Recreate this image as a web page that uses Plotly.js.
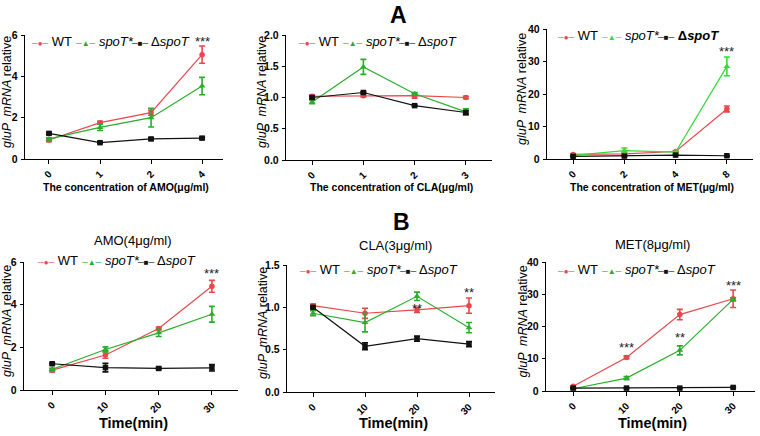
<!DOCTYPE html>
<html>
<head>
<meta charset="utf-8">
<script src="https://cdn.plot.ly/plotly-3.0.1.min.js"></script>
<style>
  body { margin: 0; background: #fff; }
  #graph { width: 760px; height: 436px; }
</style>
</head>
<body>
<div id="graph"></div>
<script>
// x categories
var amoConc = ['0', '1', '2', '4']
var claConc = ['0', '1', '2', '3']
var metConc = ['0', '2', '4', '8']
var timePts = ['0', '10', '20', '30']

// A: concentration series (value, sem)
var amoConcWT = [0.92, 1.76, 2.24, 5.05]
var amoConcWTErr = [0.08, 0.06, 0.12, 0.42]
var amoConcSpo = [0.97, 1.53, 2.0, 3.53]
var amoConcSpoErr = [0.05, 0.15, 0.45, 0.42]
var amoConcDel = [1.24, 0.79, 0.97, 1.01]
var amoConcDelErr = [0.05, 0.04, 0.05, 0.05]

var claConcWT = [1.02, 1.03, 1.03, 1.0]
var claConcWTErr = [0.02, 0.02, 0.04, 0.02]
var claConcSpo = [0.93, 1.49, 1.06, 0.77]
var claConcSpoErr = [0.03, 0.12, 0.02, 0.05]
var claConcDel = [1.0, 1.08, 0.87, 0.76]
var claConcDelErr = [0.02, 0.01, 0.01, 0.03]

var metConcWT = [1.4, 1.6, 2.3, 15.4]
var metConcWTErr = [0.2, 0.2, 0.2, 0.9]
var metConcSpo = [1.1, 2.6, 2.1, 28.5]
var metConcSpoErr = [0.2, 0.8, 0.3, 2.9]
var metConcDel = [0.8, 0.9, 1.2, 1.0]
var metConcDelErr = [0.1, 0.1, 0.1, 0.1]

// B: time series
var amoTimeWT = [0.93, 1.64, 2.88, 4.86]
var amoTimeWTErr = [0.08, 0.15, 0.06, 0.28]
var amoTimeSpo = [0.97, 1.9, 2.68, 3.55]
var amoTimeSpoErr = [0.05, 0.12, 0.17, 0.37]
var amoTimeDel = [1.23, 1.05, 1.01, 1.04]
var amoTimeDelErr = [0.04, 0.2, 0.05, 0.15]

var claTimeWT = [1.02, 0.93, 0.97, 1.02]
var claTimeWTErr = [0.02, 0.06, 0.03, 0.09]
var claTimeSpo = [0.93, 0.82, 1.13, 0.76]
var claTimeSpoErr = [0.03, 0.11, 0.05, 0.06]
var claTimeDel = [1.0, 0.54, 0.63, 0.565]
var claTimeDelErr = [0.01, 0.04, 0.03, 0.03]

var metTimeWT = [1.45, 10.4, 23.7, 28.6]
var metTimeWTErr = [0.2, 0.4, 1.6, 2.7]
var metTimeSpo = [0.7, 4.0, 12.6, 28.4]
var metTimeSpoErr = [0.1, 0.5, 1.4, 0.5]
var metTimeDel = [0.9, 0.9, 0.9, 1.1]
var metTimeDelErr = [0.1, 0.1, 0.1, 0.1]

// significance marks: [panel, category, y, text]
var stars = [
  [1, '4', 5.7, '***'],
  [3, '8', 33.2, '***'],
  [4, '30', 5.45, '***'],
  [5, '20', 0.99, '**'],
  [5, '30', 1.17, '**'],
  [6, '10', 13.6, '***'],
  [6, '20', 16.6, '**'],
  [6, '30', 32.8, '***']
]

var names = ['WT', '<i>spoT*</i>', 'Δ<i>spoT</i>']
var keys = ['─●─', '─▲─', '─■─']
var symbols = ['circle', 'triangle-up', 'square']
var legOffsets = [0, 44, 100]

var W = 760, H = 436
var RED = '#e8474c', GREEN = '#2aae2a', BLACK = '#111111'
var FONT = 'Liberation Sans, Arial, sans-serif'

// pixel boxes of each plot area: [left, right, top, bottom]
var panels = [
  { box: [25, 223, 35, 159], xr: [-0.47, 3.41], yr: [0, 6], dt: 2, fmt: '', cats: amoConc,
    series: [[amoConcWT, amoConcWTErr], [amoConcSpo, amoConcSpoErr], [amoConcDel, amoConcDelErr]],
    leg: [29, 42], ytx: 7, green: GREEN, xt: 'The concentration of AMO(μg/ml)' },
  { box: [286, 492, 35, 160], xr: [-0.51, 3.51], yr: [0, 2], dt: 0.5, fmt: '.1f', cats: claConc,
    series: [[claConcWT, claConcWTErr], [claConcSpo, claConcSpoErr], [claConcDel, claConcDelErr]],
    leg: [296, 42], ytx: 261.5, green: GREEN, xt: 'The concentration of CLA(μg/ml)' },
  { box: [547, 753, 29, 159], xr: [-0.51, 3.51], yr: [0, 40], dt: 10, fmt: '', cats: metConc,
    series: [[metConcWT, metConcWTErr], [metConcSpo, metConcSpoErr], [metConcDel, metConcDelErr]],
    leg: [555, 36], ytx: 522, green: '#3ad83a', boldDel: true, xt: 'The concentration of MET(μg/ml)' },
  { box: [24, 238, 262, 390], xr: [-0.53, 3.49], yr: [0, 6], dt: 2, fmt: '', cats: timePts,
    series: [[amoTimeWT, amoTimeWTErr], [amoTimeSpo, amoTimeSpoErr], [amoTimeDel, amoTimeDelErr]],
    leg: [35, 260], ytx: 7, green: GREEN, xt: 'Time(min)', sub: 'AMO(4μg/ml)', subPos: [133, 241] },
  { box: [287, 495, 265, 392], xr: [-0.5, 3.5], yr: [0, 1.5], dt: 0.5, fmt: '.1f', cats: timePts,
    series: [[claTimeWT, claTimeWTErr], [claTimeSpo, claTimeSpoErr], [claTimeDel, claTimeDelErr]],
    leg: [297, 269], ytx: 262.5, green: GREEN, xt: 'Time(min)', sub: 'CLA(3μg/ml)', subPos: [396, 245] },
  { box: [546, 755, 262, 391], xr: [-0.51, 3.41], yr: [0, 40], dt: 10, fmt: '', cats: timePts,
    series: [[metTimeWT, metTimeWTErr], [metTimeSpo, metTimeSpoErr], [metTimeDel, metTimeDelErr]],
    leg: [555, 269], ytx: 522, green: GREEN, xt: 'Time(min)', sub: 'MET(8μg/ml)', subPos: [652, 244] }
]

var data = []
var layout = {
  width: W, height: H,
  margin: { l: 0, r: 0, t: 0, b: 0 },
  paper_bgcolor: '#fff', plot_bgcolor: '#fff',
  font: { family: FONT, color: '#000' },
  showlegend: false,
  annotations: []
}

function px (x) { return x / W }
function py (y) { return 1 - y / H }

panels.forEach(function (p, i) {
  var n = i + 1
  var sfx = n === 1 ? '' : String(n)
  var colors = [RED, p.green, BLACK]
  p.series.forEach(function (s, k) {
    data.push({
      type: 'scatter', mode: 'lines+markers',
      x: p.cats, y: s[0],
      xaxis: 'x' + sfx, yaxis: 'y' + sfx,
      name: names[k],
      line: { color: colors[k], width: 1.2 },
      marker: { symbol: symbols[k], color: colors[k], size: k === 1 ? 6 : 5.5 },
      error_y: { type: 'data', array: s[1], visible: true, color: colors[k], thickness: 1.6, width: 3 }
    })
    // compact legend entry, GraphPad style
    var label = (p.boldDel && k === 2) ? '<b>' + names[k] + '</b>' : names[k]
    layout.annotations.push({
      xref: 'paper', yref: 'paper',
      x: px(p.leg[0] + legOffsets[k]), y: py(p.leg[1]),
      xanchor: 'left', yanchor: 'middle', showarrow: false,
      text: '<span style="color:' + colors[k] + ';font-size:8px">' + keys[k] + '</span> ' + label,
      font: { size: 13, family: FONT }
    })
  })
  layout['xaxis' + sfx] = {
    type: 'category',
    domain: [px(p.box[0]), px(p.box[1])],
    range: p.xr,
    anchor: 'y' + sfx,
    showgrid: false, zeroline: false,
    showline: true, linecolor: '#000', linewidth: 1.2,
    ticks: 'outside', ticklen: 4, tickcolor: '#000',
    tickangle: -45,
    tickfont: { size: 10, family: FONT, weight: 'bold' }
  }
  layout['yaxis' + sfx] = {
    domain: [py(p.box[3]), py(p.box[2])],
    range: p.yr, dtick: p.dt, tickformat: p.fmt,
    anchor: 'x' + sfx,
    showgrid: false, zeroline: false,
    showline: true, linecolor: '#000', linewidth: 1.2,
    ticks: 'outside', ticklen: 3, tickcolor: '#000',
    ticklabelstandoff: 1,
    tickfont: { size: 10.5, family: FONT, weight: 'bold' }
  }
  // y axis title
  layout.annotations.push({
    xref: 'paper', yref: 'paper', x: px(p.ytx), y: py((p.box[2] + p.box[3]) / 2 - 5),
    text: '<i>gluP  mRNA</i> relative', textangle: -90, showarrow: false,
    font: { size: 12.5, family: FONT },
    xanchor: 'center', yanchor: 'middle'
  })
  // x axis title
  var top = n <= 3
  layout.annotations.push({
    xref: 'paper', yref: 'paper',
    x: px((p.box[0] + p.box[1]) / 2 + 2), y: py(top ? 187 : 423),
    text: '<b>' + p.xt + '</b>', showarrow: false,
    font: { size: top ? 10.5 : 14.5, family: FONT },
    xanchor: 'center', yanchor: 'middle'
  })
  if (p.sub) {
    layout.annotations.push({
      xref: 'paper', yref: 'paper', x: px(p.subPos[0]), y: py(p.subPos[1]),
      text: p.sub, showarrow: false, font: { size: 13, family: FONT },
      xanchor: 'center', yanchor: 'middle'
    })
  }
})

stars.forEach(function (s) {
  var sfx = s[0] === 1 ? '' : String(s[0])
  var cats = panels[s[0] - 1].cats
  layout.annotations.push({
    xref: 'x' + sfx, yref: 'y' + sfx, x: cats.indexOf(s[1]), y: s[2],
    text: s[3], showarrow: false, font: { size: 13, family: FONT, color: '#222' },
    xanchor: 'center', yanchor: 'middle'
  })
})

// panel letters
layout.annotations.push({
  xref: 'paper', yref: 'paper', x: px(398), y: py(15), text: '<b>A</b>', showarrow: false,
  font: { size: 23, family: FONT }, xanchor: 'center', yanchor: 'middle'
})
layout.annotations.push({
  xref: 'paper', yref: 'paper', x: px(401), y: py(222), text: '<b>B</b>', showarrow: false,
  font: { size: 23, family: FONT }, xanchor: 'center', yanchor: 'middle'
})

Plotly.newPlot('graph', data, layout, { displayModeBar: false, staticPlot: true })
</script>
</body>
</html>
